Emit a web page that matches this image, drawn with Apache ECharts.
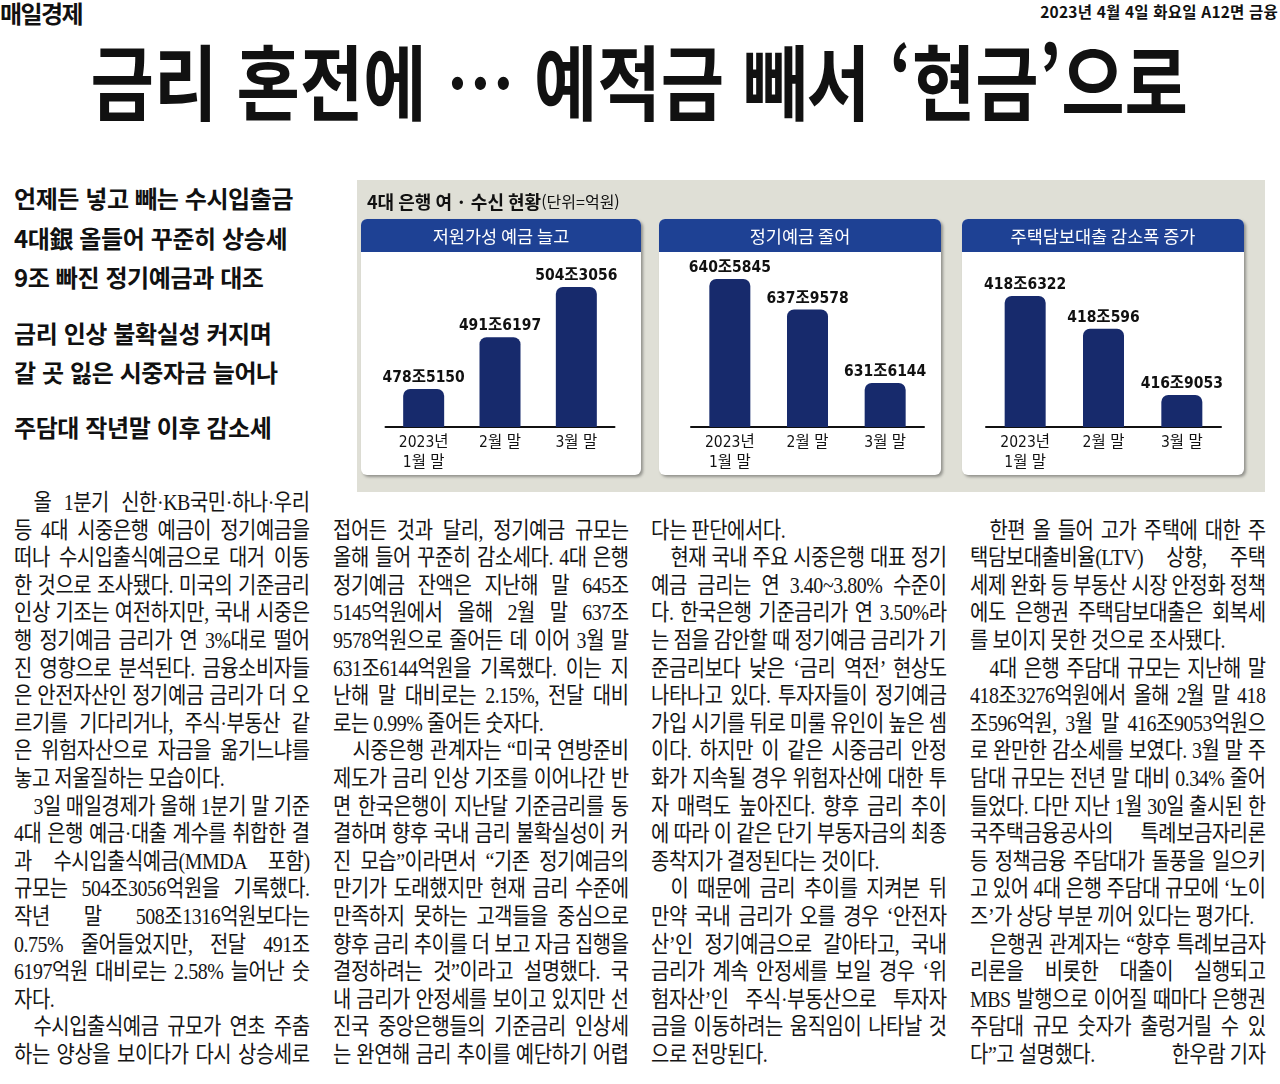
<!DOCTYPE html>
<html lang="ko">
<head>
<meta charset="utf-8">
<title>금리 혼전에… 예적금 빼서 ‘현금’으로</title>
<script src="https://cdn.jsdelivr.net/npm/echarts@6/dist/echarts.min.js"></script>
<style>
html,body{margin:0;padding:0;background:#fff;}
body{width:1280px;height:1084px;position:relative;overflow:hidden;font-family:"Noto Sans CJK KR",sans-serif;color:#111;}
.abs{position:absolute;white-space:nowrap;}
#paper{left:0;top:-5px;font-size:24px;font-weight:700;letter-spacing:-1.6px;}
#dateline{right:2px;top:0;font-size:15.5px;font-weight:700;letter-spacing:0.2px;}
#headline{left:-14px;width:1280px;top:37px;text-align:center;font-size:82px;line-height:84px;font-weight:700;}
#headline span{display:inline-block;transform:scaleX(0.84);transform-origin:center;}
.sub{left:14px;font-size:24px;line-height:30px;font-weight:700;letter-spacing:-0.4px;}
.col{position:absolute;width:334px;font-family:"Liberation Serif","Noto Sans CJK KR",serif;font-size:22.5px;letter-spacing:-0.5px;color:#151515;transform:scaleX(0.885);transform-origin:left top;}
.ln{height:27.6px;line-height:27.6px;white-space:nowrap;text-align:justify;text-align-last:justify;}
.ln.i{padding-left:22px;}
.ln.e{text-align-last:left;}
.ln.by{display:flex;justify-content:space-between;}
#chart{position:absolute;left:357px;top:180px;width:908px;height:312px;}
</style>
</head>
<body>
<div id="paper" class="abs">매일경제</div>
<div id="dateline" class="abs">2023년 4월 4일 화요일 A12면 금융</div>
<div id="headline" class="abs"><span>금리 혼전에 … 예적금 빼서 ‘현금’으로</span></div>

<div class="abs sub" style="top:183px">언제든 넣고 빼는 수시입출금</div>
<div class="abs sub" style="top:223px">4대銀 올들어 꾸준히 상승세</div>
<div class="abs sub" style="top:262px">9조 빠진 정기예금과 대조</div>
<div class="abs sub" style="top:318px">금리 인상 불확실성 커지며</div>
<div class="abs sub" style="top:357px">갈 곳 잃은 시중자금 늘어나</div>
<div class="abs sub" style="top:412px">주담대 작년말 이후 감소세</div>

<div id="chart"></div>

<div class="col" style="left:14px;top:489px">
<div class="ln i">올 1분기 신한·KB국민·하나·우리</div>
<div class="ln">등 4대 시중은행 예금이 정기예금을</div>
<div class="ln">떠나 수시입출식예금으로 대거 이동</div>
<div class="ln">한 것으로 조사됐다. 미국의 기준금리</div>
<div class="ln">인상 기조는 여전하지만, 국내 시중은</div>
<div class="ln">행 정기예금 금리가 연 3%대로 떨어</div>
<div class="ln">진 영향으로 분석된다. 금융소비자들</div>
<div class="ln">은 안전자산인 정기예금 금리가 더 오</div>
<div class="ln">르기를 기다리거나, 주식·부동산 같</div>
<div class="ln">은 위험자산으로 자금을 옮기느냐를</div>
<div class="ln e">놓고 저울질하는 모습이다.</div>
<div class="ln i">3일 매일경제가 올해 1분기 말 기준</div>
<div class="ln">4대 은행 예금·대출 계수를 취합한 결</div>
<div class="ln">과 수시입출식예금(MMDA 포함)</div>
<div class="ln">규모는 504조3056억원을 기록했다.</div>
<div class="ln">작년 말 508조1316억원보다는</div>
<div class="ln">0.75% 줄어들었지만, 전달 491조</div>
<div class="ln">6197억원 대비로는 2.58% 늘어난 숫</div>
<div class="ln e">자다.</div>
<div class="ln i">수시입출식예금 규모가 연초 주춤</div>
<div class="ln">하는 양상을 보이다가 다시 상승세로</div>
</div>

<div class="col" style="left:333px;top:516.6px">
<div class="ln">접어든 것과 달리, 정기예금 규모는</div>
<div class="ln">올해 들어 꾸준히 감소세다. 4대 은행</div>
<div class="ln">정기예금 잔액은 지난해 말 645조</div>
<div class="ln">5145억원에서 올해 2월 말 637조</div>
<div class="ln">9578억원으로 줄어든 데 이어 3월 말</div>
<div class="ln">631조6144억원을 기록했다. 이는 지</div>
<div class="ln">난해 말 대비로는 2.15%, 전달 대비</div>
<div class="ln e">로는 0.99% 줄어든 숫자다.</div>
<div class="ln i">시중은행 관계자는 “미국 연방준비</div>
<div class="ln">제도가 금리 인상 기조를 이어나간 반</div>
<div class="ln">면 한국은행이 지난달 기준금리를 동</div>
<div class="ln">결하며 향후 국내 금리 불확실성이 커</div>
<div class="ln">진 모습”이라면서 “기존 정기예금의</div>
<div class="ln">만기가 도래했지만 현재 금리 수준에</div>
<div class="ln">만족하지 못하는 고객들을 중심으로</div>
<div class="ln">향후 금리 추이를 더 보고 자금 집행을</div>
<div class="ln">결정하려는 것”이라고 설명했다. 국</div>
<div class="ln">내 금리가 안정세를 보이고 있지만 선</div>
<div class="ln">진국 중앙은행들의 기준금리 인상세</div>
<div class="ln">는 완연해 금리 추이를 예단하기 어렵</div>
</div>

<div class="col" style="left:651px;top:516.6px">
<div class="ln e">다는 판단에서다.</div>
<div class="ln i">현재 국내 주요 시중은행 대표 정기</div>
<div class="ln">예금 금리는 연 3.40~3.80% 수준이</div>
<div class="ln">다. 한국은행 기준금리가 연 3.50%라</div>
<div class="ln">는 점을 감안할 때 정기예금 금리가 기</div>
<div class="ln">준금리보다 낮은 ‘금리 역전’ 현상도</div>
<div class="ln">나타나고 있다. 투자자들이 정기예금</div>
<div class="ln">가입 시기를 뒤로 미룰 유인이 높은 셈</div>
<div class="ln">이다. 하지만 이 같은 시중금리 안정</div>
<div class="ln">화가 지속될 경우 위험자산에 대한 투</div>
<div class="ln">자 매력도 높아진다. 향후 금리 추이</div>
<div class="ln">에 따라 이 같은 단기 부동자금의 최종</div>
<div class="ln e">종착지가 결정된다는 것이다.</div>
<div class="ln i">이 때문에 금리 추이를 지켜본 뒤</div>
<div class="ln">만약 국내 금리가 오를 경우 ‘안전자</div>
<div class="ln">산’인 정기예금으로 갈아타고, 국내</div>
<div class="ln">금리가 계속 안정세를 보일 경우 ‘위</div>
<div class="ln">험자산’인 주식·부동산으로 투자자</div>
<div class="ln">금을 이동하려는 움직임이 나타날 것</div>
<div class="ln e">으로 전망된다.</div>
</div>

<div class="col" style="left:970px;top:516.6px">
<div class="ln i">한편 올 들어 고가 주택에 대한 주</div>
<div class="ln">택담보대출비율(LTV) 상향, 주택</div>
<div class="ln">세제 완화 등 부동산 시장 안정화 정책</div>
<div class="ln">에도 은행권 주택담보대출은 회복세</div>
<div class="ln e">를 보이지 못한 것으로 조사됐다.</div>
<div class="ln i">4대 은행 주담대 규모는 지난해 말</div>
<div class="ln">418조3276억원에서 올해 2월 말 418</div>
<div class="ln">조596억원, 3월 말 416조9053억원으</div>
<div class="ln">로 완만한 감소세를 보였다. 3월 말 주</div>
<div class="ln">담대 규모는 전년 말 대비 0.34% 줄어</div>
<div class="ln">들었다. 다만 지난 1월 30일 출시된 한</div>
<div class="ln">국주택금융공사의 특례보금자리론</div>
<div class="ln">등 정책금융 주담대가 돌풍을 일으키</div>
<div class="ln">고 있어 4대 은행 주담대 규모에 ‘노이</div>
<div class="ln e">즈’가 상당 부분 끼어 있다는 평가다.</div>
<div class="ln i">은행권 관계자는 “향후 특례보금자</div>
<div class="ln">리론을 비롯한 대출이 실행되고</div>
<div class="ln">MBS 발행으로 이어질 때마다 은행권</div>
<div class="ln">주담대 규모 숫자가 출렁거릴 수 있</div>
<div class="ln by"><span>다”고 설명했다.</span><span>한우람 기자</span></div>
</div>

<script>
// 4대 은행 여·수신 현황 (단위: 억원)
const categories = ['2023년\n1월 말', '2월 말', '3월 말'];
const panelTitles = ['저원가성 예금 늘고', '정기예금 줄어', '주택담보대출 감소폭 증가'];
const lowCostDeposits = [4785150, 4916197, 5043056];
const timeDeposits = [6405845, 6379578, 6316144];
const mortgageLoans = [4186322, 4180596, 4169053];
// the graphic uses a cut-off value axis per panel
const axisMins = [4689000, 6278200, 4163470];
const axisMaxs = [5162000, 6439500, 4196090];

const panelData = [lowCostDeposits, timeDeposits, mortgageLoans];
const panelBoxes = [
  {x: 4, w: 280},
  {x: 302, w: 282},
  {x: 605, w: 282}
];
const gridBoxes = [
  {left: 28.5, width: 229},
  {left: 334, width: 233},
  {left: 629, width: 235}
];

const numFont = '"Liberation Sans Narrow", "DejaVu Sans Condensed", "Noto Sans CJK KR", sans-serif';
const joFormat = v => Math.floor(v / 10000) + '조' + (v % 10000);

const chart = echarts.init(document.getElementById('chart'), null, {renderer: 'canvas'});

const graphics = [
  {
    type: 'text', left: 10, top: 13, z: 5,
    style: {
      text: '{a|4대 은행 여 · 수신 현황}{b|(단위=억원)}',
      rich: {
        a: {fontSize: 18, fontWeight: 'bold', fill: '#111', fontFamily: 'Noto Sans CJK KR'},
        b: {fontSize: 16, fill: '#111', fontFamily: 'Noto Sans CJK KR'}
      }
    }
  }
];
panelBoxes.forEach((b, i) => {
  graphics.push({
    type: 'rect', z: 0,
    shape: {x: b.x, y: 39, width: b.w, height: 256, r: 6},
    style: {fill: '#fff', shadowColor: 'rgba(0,0,0,0.35)', shadowBlur: 3, shadowOffsetX: 2, shadowOffsetY: 2}
  });
  graphics.push({
    type: 'rect', z: 1,
    shape: {x: b.x, y: 39, width: b.w, height: 33, r: [6, 6, 0, 0]},
    style: {fill: '#1e4194'}
  });
  graphics.push({
    type: 'text', z: 2,
    x: b.x + b.w / 2, y: 56,
    style: {
      text: panelTitles[i], fill: '#fff', fontSize: 17.5,
      fontFamily: 'Noto Sans CJK KR', align: 'center', verticalAlign: 'middle'
    }
  });
});

const option = {
  backgroundColor: '#dfdfd6',
  animation: false,
  graphic: {elements: graphics},
  grid: gridBoxes.map(g => ({left: g.left, width: g.width, top: 60, height: 187})),
  xAxis: gridBoxes.map((g, i) => ({
    type: 'category', gridIndex: i, data: categories,
    axisLine: {lineStyle: {color: '#111', width: 2}},
    axisTick: {show: false},
    axisLabel: {color: '#111', fontSize: 15.5, lineHeight: 20, margin: 6, fontFamily: numFont}
  })),
  yAxis: gridBoxes.map((g, i) => ({
    type: 'value', gridIndex: i, min: axisMins[i], max: axisMaxs[i], show: false
  })),
  series: panelData.map((d, i) => ({
    type: 'bar', xAxisIndex: i, yAxisIndex: i, data: d,
    barWidth: 41, z: 3,
    itemStyle: {color: '#172a6c', borderRadius: [7, 7, 0, 0]},
    label: {
      show: true, position: 'top', distance: 3,
      color: '#111', fontSize: 15.5, fontWeight: 'bold', fontFamily: numFont,
      formatter: p => joFormat(p.value)
    }
  }))
};
chart.setOption(option);
</script>
</body>
</html>
